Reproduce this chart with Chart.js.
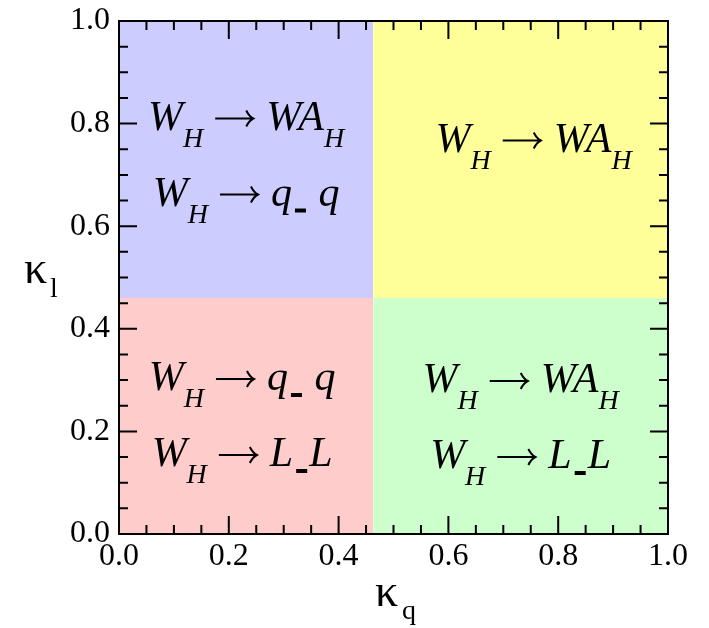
<!DOCTYPE html>
<html>
<head>
<meta charset="utf-8">
<script src="https://cdn.jsdelivr.net/npm/chart.js@4/dist/chart.umd.min.js"></script>
<style>
  body { margin: 0; background: #fff; }
  canvas { display: block; }
</style>
</head>
<body>
<canvas id="mainChart" width="709" height="628"></canvas>
<script>
// region boundaries in (kappa_q, kappa_l)
var xSplit = 0.463;
var ySplit = 0.46;
var regionNames = ["lowQ-highL", "highQ-highL", "lowQ-lowL", "highQ-lowL"];
var regionX0 = [0, xSplit, 0, xSplit];
var regionX1 = [xSplit, 1, xSplit, 1];
var regionY0 = [ySplit, ySplit, 0, 0];
var regionY1 = [1, 1, ySplit, ySplit];

// decay channels open in each region, _{..} marks a subscript
var regionLines = [
  ["W_{H}\u2192WA_{H}", "W_{H}\u2192q_{\u2013} q"],
  ["W_{H}\u2192WA_{H}"],
  ["W_{H}\u2192q_{\u2013} q", "W_{H}\u2192L_{\u2013}L"],
  ["W_{H}\u2192WA_{H}", "W_{H}\u2192L_{\u2013}L"]
];

var xTicks = [0.0, 0.2, 0.4, 0.6, 0.8, 1.0];
var yTicks = [0.0, 0.2, 0.4, 0.6, 0.8, 1.0];
var minorPerMajor = 4;

var regionColors = ["#ccccff", "#ffff99", "#ffcccc", "#ccffcc"];
// small nudges for the text blocks (px)
var textNudgeX = [0, 13, -4, 0];
var textNudgeY = [-4, -20, 0, 2];

var SERIF = "'Liberation Serif', 'Times New Roman', serif";
var tickFont = { family: SERIF, size: 32 };
var ARROW_W = 63;
var DASH_W = 16;

function drawRich(ctx, str, cx, baseline) {
  // split into normal / subscript pieces
  var parts = [];
  var re = /_\{([^}]*)\}/g, last = 0, m;
  while ((m = re.exec(str)) !== null) {
    if (m.index > last) parts.push({ t: str.slice(last, m.index), sub: false });
    parts.push({ t: m[1], sub: true });
    last = re.lastIndex;
  }
  if (last < str.length) parts.push({ t: str.slice(last), sub: false });

  var pieces = [];
  parts.forEach(function (p) {
    var chunks = p.t.split(/(\u2192)/);
    chunks.forEach(function (c) {
      if (!c) return;
      if (c === "\u2192") { pieces.push({ kind: "arrow", w: ARROW_W }); return; }
      if (p.sub && c === "\u2013") { pieces.push({ kind: "dash", w: DASH_W }); return; }
      var font = p.sub ? "italic 28px " + SERIF : "italic 42px " + SERIF;
      ctx.font = font;
      pieces.push({ kind: "text", t: c, font: font, dy: p.sub ? 17 : 0, w: ctx.measureText(c).width });
    });
  });
  var total = pieces.reduce(function (a, p) { return a + p.w; }, 0);
  var x = cx - total / 2;
  ctx.textAlign = "left";
  ctx.textBaseline = "alphabetic";
  pieces.forEach(function (p) {
    if (p.kind === "arrow") {
      // long right arrow with an open head
      var y = baseline - 11, x0 = x + 12, x1 = x + 50;
      ctx.lineWidth = 2;
      ctx.beginPath();
      ctx.moveTo(x0, y); ctx.lineTo(x1, y);
      ctx.moveTo(x1 - 7, y - 8); ctx.quadraticCurveTo(x1 - 4, y - 2, x1, y);
      ctx.quadraticCurveTo(x1 - 4, y + 2, x1 - 7, y + 8);
      ctx.stroke();
    } else if (p.kind === "dash") {
      ctx.fillRect(x + 3, baseline + 3, 11, 4);
    } else {
      ctx.font = p.font;
      ctx.fillText(p.t, x, baseline + p.dy);
    }
    x += p.w;
  });
}

var framePlugin = {
  id: "frame",
  afterDraw: function (chart) {
    var ctx = chart.ctx;
    var a = chart.chartArea;
    var xs = chart.scales.x, ys = chart.scales.y;
    ctx.save();

    // text inside each region
    ctx.fillStyle = "#000";
    ctx.strokeStyle = "#000";
    regionLines.forEach(function (lines, i) {
      var cx = (xs.getPixelForValue(regionX0[i]) + xs.getPixelForValue(regionX1[i])) / 2 + textNudgeX[i];
      var cy = (ys.getPixelForValue(regionY0[i]) + ys.getPixelForValue(regionY1[i])) / 2 + textNudgeY[i];
      var gap = 76;
      lines.forEach(function (line, k) {
        var b = cy + (k - (lines.length - 1) / 2) * gap + 12;
        drawRich(ctx, line, cx, b);
      });
    });

    // box with inward ticks on all four sides
    ctx.lineWidth = 2;
    ctx.strokeRect(a.left, a.top, a.right - a.left, a.bottom - a.top);
    function marks(ticks, scale, horiz) {
      for (var i = 0; i < ticks.length; i++) {
        for (var k = 0; k < minorPerMajor; k++) {
          if (i === ticks.length - 1 && k > 0) break;
          var v = i === ticks.length - 1 ? ticks[i] : ticks[i] + (ticks[i + 1] - ticks[i]) * k / minorPerMajor;
          var len = k === 0 ? 18 : 9;
          var p = scale.getPixelForValue(v);
          ctx.beginPath();
          if (horiz) {
            ctx.moveTo(p, a.bottom); ctx.lineTo(p, a.bottom - len);
            ctx.moveTo(p, a.top); ctx.lineTo(p, a.top + len);
          } else {
            ctx.moveTo(a.left, p); ctx.lineTo(a.left + len, p);
            ctx.moveTo(a.right, p); ctx.lineTo(a.right - len, p);
          }
          ctx.stroke();
        }
      }
    }
    marks(xTicks, xs, true);
    marks(yTicks, ys, false);

    // axis titles
    ctx.textAlign = "left";
    ctx.textBaseline = "alphabetic";
    ctx.font = "46px " + SERIF;
    ctx.fillText("\u03ba", 375, 606);
    ctx.fillText("\u03ba", 24, 283);
    ctx.font = "28px " + SERIF;
    ctx.fillText("q", 402, 619);
    ctx.fillText("l", 50, 297);
    ctx.restore();
  }
};

var ctx = document.getElementById("mainChart").getContext("2d");
var chart = new Chart(ctx, {
  type: "scatter",
  data: {
    datasets: regionNames.map(function (name, i) {
      return {
        label: name,
        data: [{ x: regionX0[i], y: regionY1[i] }, { x: regionX1[i], y: regionY1[i] }],
        showLine: true,
        borderWidth: 0,
        pointRadius: 0,
        backgroundColor: regionColors[i],
        fill: { value: regionY0[i] }
      };
    })
  },
  options: {
    responsive: false,
    animation: false,
    layout: { padding: { top: 21, right: 41, left: 0, bottom: 0 } },
    plugins: { legend: { display: false }, tooltip: { enabled: false } },
    scales: {
      x: {
        type: "linear", min: 0, max: 1,
        afterBuildTicks: function (s) { s.ticks = xTicks.map(function (v) { return { value: v }; }); },
        afterFit: function (s) { s.height = 94; s.paddingLeft = 0; s.paddingRight = 0; },
        grid: { display: false, drawTicks: false },
        border: { display: false },
        ticks: { font: tickFont, color: "#000", padding: 3, maxRotation: 0, autoSkip: false,
          callback: function (v) { return v.toFixed(1); } }
      },
      y: {
        type: "linear", min: 0, max: 1,
        afterBuildTicks: function (s) { s.ticks = yTicks.map(function (v) { return { value: v }; }); },
        afterFit: function (s) { s.width = 119; s.paddingTop = 0; s.paddingBottom = 0; },
        grid: { display: false, drawTicks: false },
        border: { display: false },
        ticks: { font: tickFont, color: "#000", padding: 9, autoSkip: false,
          callback: function (v) { return v.toFixed(1); } }
      }
    }
  },
  plugins: [framePlugin]
});
</script>
</body>
</html>
